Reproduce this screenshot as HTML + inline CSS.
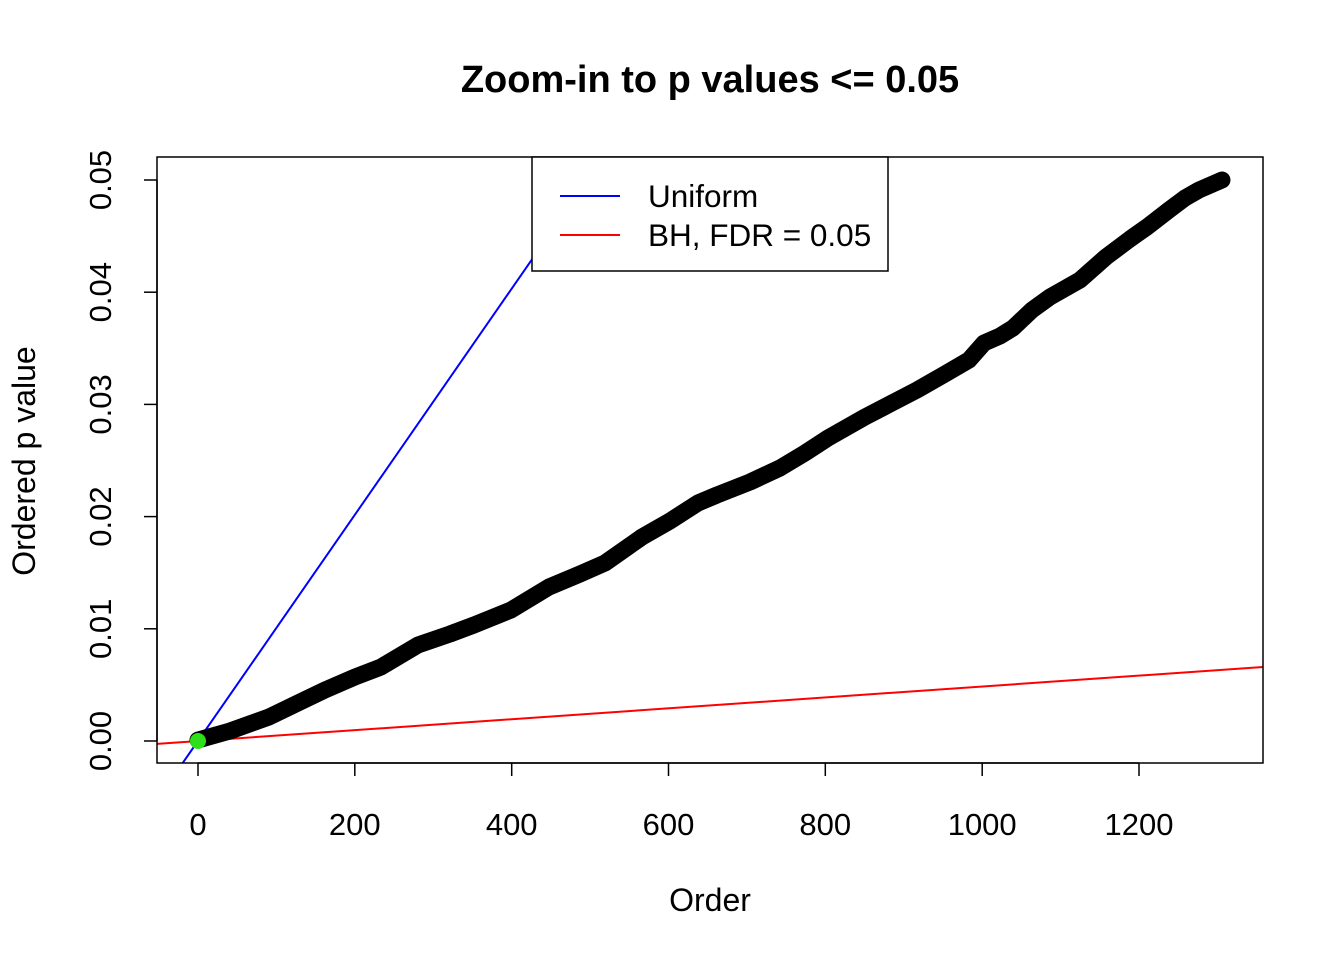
<!DOCTYPE html>
<html><head><meta charset="utf-8"><style>body{margin:0;background:#fff}svg{display:block}text{font-family:"Liberation Sans",Arial,sans-serif}</style></head>
<body>
<svg width="1344" height="960" viewBox="0 0 1344 960" xmlns="http://www.w3.org/2000/svg">
<rect width="1344" height="960" fill="#fff"/>
<defs><clipPath id="c"><rect x="157" y="157" width="1106" height="606"/></clipPath></defs>
<g clip-path="url(#c)">
<line x1="157" y1="743.9" x2="1263" y2="667" stroke="#f00" stroke-width="2"/>
<line x1="182.7" y1="763" x2="560" y2="219" stroke="#00f" stroke-width="2"/>
<polyline fill="none" stroke="#000" stroke-width="17" stroke-linejoin="round" stroke-linecap="round"
points="198,740 230,731 269,717 300,702 325,690 355,677 381,667 418,645 450,634 474,625 511,610 549,587 580,574 605,563 642,537 670,521 698,503 717,495 750,482 780,468 805,453 828,438 865,417 890,404 917,390 945,374 969,360 984,343 1000,336 1013,328 1032,310 1050,297 1080,280 1106,257 1130,239 1147,227 1169,210 1185,198 1199,190 1222,180"/>
<circle cx="198" cy="741" r="8" fill="#2ee01a"/>
</g>
<rect x="157" y="157" width="1106" height="606" fill="none" stroke="#000" stroke-width="1.5"/>
<rect x="532" y="157" width="356" height="114" fill="#fff" stroke="#000" stroke-width="1.5"/>
<line x1="560" y1="196" x2="620" y2="196" stroke="#00f" stroke-width="2"/>
<line x1="560" y1="235" x2="620" y2="235" stroke="#f00" stroke-width="2"/>
<text x="648" y="207" font-size="31.5">Uniform</text>
<text x="648" y="246" font-size="31.5">BH, FDR = 0.05</text>
<text x="710" y="92" font-size="38" font-weight="bold" text-anchor="middle">Zoom-in to p values &lt;= 0.05</text>
<g stroke="#000" stroke-width="1.5">
<line x1="198" y1="763" x2="1139" y2="763"/>
<line x1="198" y1="763" x2="198" y2="776"/><line x1="354.8" y1="763" x2="354.8" y2="776"/><line x1="511.7" y1="763" x2="511.7" y2="776"/><line x1="668.5" y1="763" x2="668.5" y2="776"/><line x1="825.3" y1="763" x2="825.3" y2="776"/><line x1="982.2" y1="763" x2="982.2" y2="776"/><line x1="1139" y1="763" x2="1139" y2="776"/>
<line x1="157" y1="180" x2="157" y2="741"/>
<line x1="144" y1="741" x2="157" y2="741"/><line x1="144" y1="628.8" x2="157" y2="628.8"/><line x1="144" y1="516.6" x2="157" y2="516.6"/><line x1="144" y1="404.4" x2="157" y2="404.4"/><line x1="144" y1="292.2" x2="157" y2="292.2"/><line x1="144" y1="180" x2="157" y2="180"/>
</g>
<g font-size="31" text-anchor="middle">
<text x="198" y="835">0</text><text x="354.8" y="835">200</text><text x="511.7" y="835">400</text><text x="668.5" y="835">600</text><text x="825.3" y="835">800</text><text x="982.2" y="835">1000</text><text x="1139" y="835">1200</text>
<text x="710" y="911" font-size="32">Order</text>
<text transform="translate(111,741) rotate(-90)">0.00</text>
<text transform="translate(111,628.8) rotate(-90)">0.01</text>
<text transform="translate(111,516.6) rotate(-90)">0.02</text>
<text transform="translate(111,404.4) rotate(-90)">0.03</text>
<text transform="translate(111,292.2) rotate(-90)">0.04</text>
<text transform="translate(111,180) rotate(-90)">0.05</text>
<text transform="translate(35,461) rotate(-90)" font-size="32">Ordered p value</text>
</g>
</svg>
</body></html>
